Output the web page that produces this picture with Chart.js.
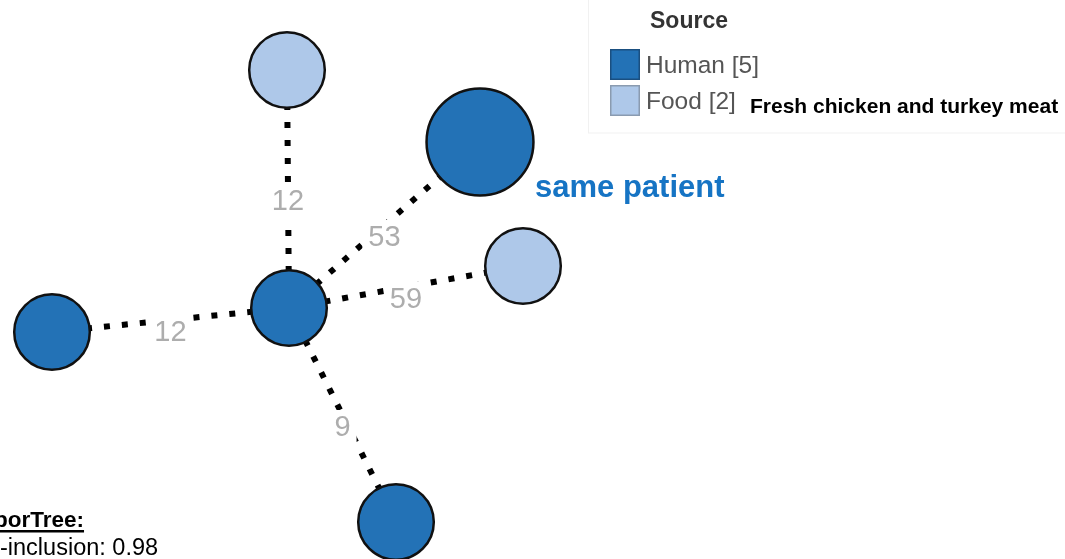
<!DOCTYPE html>
<html>
<head>
<meta charset="utf-8">
<script src="https://cdn.jsdelivr.net/npm/chart.js@4.4.1/dist/chart.umd.min.js"></script>
<style>
  html, body { margin: 0; padding: 0; background: #fff; overflow: hidden; }
  #wrap { width: 1065px; height: 559px; position: relative; }
</style>
</head>
<body>
<div id="wrap"><canvas id="c"></canvas></div>
<script>
// Minimum spanning tree: nodes are allele profiles, edge labels are allele distances.
const nodeNames   = ['hub', 'food-top', 'pair', 'food-right', 'left', 'bottom'];
const nodeSource  = ['Human', 'Food', 'Human', 'Food', 'Human', 'Human'];
const nodeCount   = [1, 1, 2, 1, 1, 1];            // isolates per node
const nodeX       = [289, 287, 480, 523, 52, 396];  // layout coordinates
const nodeY       = [308, 70, 142, 266, 332, 522];

const edgeFrom     = [0, 0, 0, 0, 0];
const edgeTo       = [1, 2, 3, 4, 5];
const edgeDistance = [12, 53, 59, 12, 9];

const sources      = ['Human', 'Food'];
const sourceFill   = { Human: '#2372b6', Food: '#aec8e9' };

const FONT = '"Liberation Sans", Arial, Helvetica, sans-serif';
const BASE_R = 37.8;

// Edge datasets (drawn underneath the nodes)
const edgeSets = edgeFrom.map((a, i) => ({
  type: 'line',
  label: 'edge' + i,
  data: [{ x: nodeX[a], y: nodeY[a] }, { x: nodeX[edgeTo[i]], y: nodeY[edgeTo[i]] }],
  borderColor: '#000',
  borderWidth: 6,
  borderDash: [6, 12],
  borderCapStyle: 'butt',
  pointRadius: 0,
  fill: false,
  order: 2,
  clip: false
}));

// Node datasets, one per source
const nodeSets = sources.map(src => ({
  type: 'bubble',
  label: src,
  data: nodeNames.map((n, i) => i).filter(i => nodeSource[i] === src)
    .map(i => ({ x: nodeX[i], y: nodeY[i], r: BASE_R * Math.sqrt(nodeCount[i]) })),
  backgroundColor: sourceFill[src],
  borderColor: '#111',
  borderWidth: 2.5,
  order: 1,
  clip: false
}));

const overlay = {
  id: 'overlay',
  afterDatasetsDraw(chart) {
    const { ctx, scales: { x, y } } = chart;
    ctx.save();

    // distance labels at edge midpoints
    ctx.font = '29px ' + FONT;
    ctx.textAlign = 'center';
    ctx.textBaseline = 'middle';
    edgeFrom.forEach((a, i) => {
      const b = edgeTo[i];
      const mx = (x.getPixelForValue(nodeX[a]) + x.getPixelForValue(nodeX[b])) / 2;
      const my = (y.getPixelForValue(nodeY[a]) + y.getPixelForValue(nodeY[b])) / 2;
      const txt = String(edgeDistance[i]);
      const ly = my + 13;
      const w = ctx.measureText(txt).width + 12;
      ctx.fillStyle = '#fff';
      ctx.fillRect(mx - w / 2, ly - 18, w, 34);
      ctx.fillStyle = '#adadad';
      ctx.fillText(txt, mx, ly);
    });

    // legend panel
    ctx.strokeStyle = '#f1f1f1';
    ctx.lineWidth = 1;
    ctx.strokeRect(588.5, -2, 500, 135);

    ctx.textAlign = 'left';
    ctx.textBaseline = 'alphabetic';
    ctx.fillStyle = '#333';
    ctx.font = 'bold 23px ' + FONT;
    ctx.fillText('Source', 650, 28);

    const counts = sources.map(s => nodeSource.reduce((t, v, i) => t + (v === s ? nodeCount[i] : 0), 0));
    sources.forEach((s, k) => {
      const top = 49 + k * 36;
      ctx.fillStyle = sourceFill[s];
      ctx.fillRect(610, top, 30, 31);
      ctx.strokeStyle = s === 'Human' ? '#1a4f80' : '#8a9bb0';
      ctx.lineWidth = 1.5;
      ctx.strokeRect(610.75, top + 0.75, 28.5, 29.5);
      ctx.fillStyle = '#555';
      ctx.font = '24.5px ' + FONT;
      ctx.fillText(s + ' [' + counts[k] + ']', 646, top + 24);
    });

    ctx.fillStyle = '#000';
    ctx.font = 'bold 21px ' + FONT;
    ctx.fillText('Fresh chicken and turkey meat', 750, 113);

    // annotation next to the two-isolate node
    ctx.fillStyle = '#1674c4';
    ctx.font = 'bold 31px ' + FONT;
    ctx.fillText('same patient', 535, 197);

    // tree note, bottom left
    ctx.fillStyle = '#000';
    ctx.font = 'bold 22.5px ' + FONT;
    const t1 = 'borTree:';
    ctx.fillText(t1, -6, 527);
    const tw = ctx.measureText(t1).width;
    ctx.fillRect(-6, 530, tw, 2.5);
    ctx.font = '23.5px ' + FONT;
    ctx.fillText('-inclusion: 0.98', 0, 555);

    ctx.restore();
  }
};

new Chart(document.getElementById('c'), {
  type: 'bubble',
  data: { datasets: [...nodeSets, ...edgeSets] },
  options: {
    responsive: true,
    maintainAspectRatio: false,
    animation: false,
    events: [],
    layout: { padding: 0, autoPadding: false },
    plugins: { legend: { display: false }, tooltip: { enabled: false } },
    scales: {
      x: { type: 'linear', min: 0, max: 1065, display: false },
      y: { type: 'linear', min: 0, max: 559, reverse: true, display: false }
    }
  },
  plugins: [overlay]
});
</script>
</body>
</html>
